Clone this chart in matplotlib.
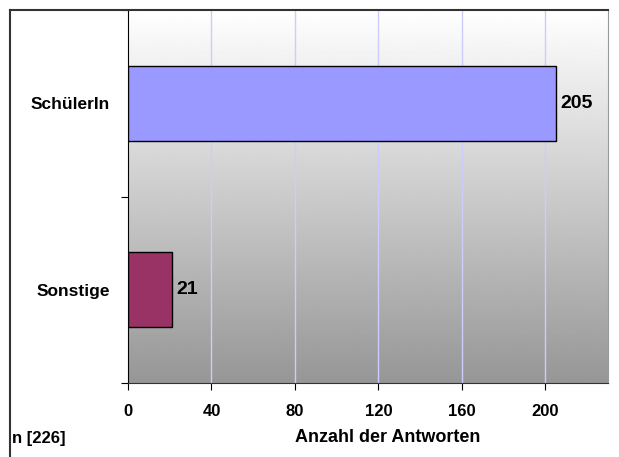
import numpy as np
import matplotlib.pyplot as plt
from matplotlib.lines import Line2D

categories = ["Sonstige", "SchülerIn"]
values = [21, 205]
colors = ["#993366", "#9999FF"]
xticks = [0, 40, 80, 120, 160, 200]

plt.rcParams['font.family'] = ['Liberation Sans', 'DejaVu Sans']
plt.rcParams['font.weight'] = 'bold'

W, H = 619, 457
fig = plt.figure(figsize=(W / 100, H / 100), dpi=100)
fig.patch.set_facecolor('white')

left, right, top, bottom = 128, 608, 10, 383
ax = fig.add_axes([left / W, 1 - bottom / H, (right - left) / W, (bottom - top) / H])

xmax = 230
ax.set_xlim(0, xmax)
ax.set_ylim(-0.5, 1.5)

# gradient background, white at top to grey at bottom
grad = np.linspace(0.59, 1.0, 256).reshape(-1, 1)
ax.imshow(grad, extent=[0, xmax, -0.5, 1.5], origin='lower', aspect='auto',
          cmap='gray', vmin=0, vmax=1, zorder=0)

for x in xticks[1:]:
    ax.axvline(x, color='#ccccff', lw=1, zorder=1)

y = np.arange(len(categories))
ax.barh(y, values, height=0.4, color=colors, edgecolor='black', lw=1, zorder=3)
for yi, v in zip(y, values):
    ax.text(v + 2, yi, str(v), va='center', ha='left', fontsize=14, fontweight='bold')

ax.set_xticks(xticks)
ax.set_xticklabels([str(t) for t in xticks], fontsize=12, fontweight='bold')
ax.set_yticks([-0.5, 0.5, 1.5], minor=False)
ax.set_yticklabels([])
ax.set_yticks(y, minor=True)
ax.set_yticklabels(categories, minor=True, fontsize=12.5, fontweight='bold')
ax.tick_params(axis='y', which='minor', length=0, pad=13)
ax.tick_params(axis='y', which='major', length=5, direction='out')
ax.tick_params(axis='x', length=5, direction='out', pad=10)

ax.spines['top'].set_visible(False)
ax.spines['right'].set_color('#999999')
ax.spines['left'].set_color('black')
ax.spines['bottom'].set_color('#333333')

fig.text(12 / W, 1 - 438 / H, "n [226]", fontsize=12, fontweight='bold', va='center', ha='left')
fig.text(388 / W, 1 - 438 / H, "Anzahl der Antworten", fontsize=13, fontweight='bold',
         va='center', ha='center')

# outer frame lines
fig.add_artist(Line2D([10 / W, 608 / W], [1 - 10 / H, 1 - 10 / H], color='#333333', lw=1.5))
fig.add_artist(Line2D([10 / W, 10 / W], [1 - 10 / H, 0], color='#333333', lw=1.5))

fig.savefig("out.png", dpi=100)
